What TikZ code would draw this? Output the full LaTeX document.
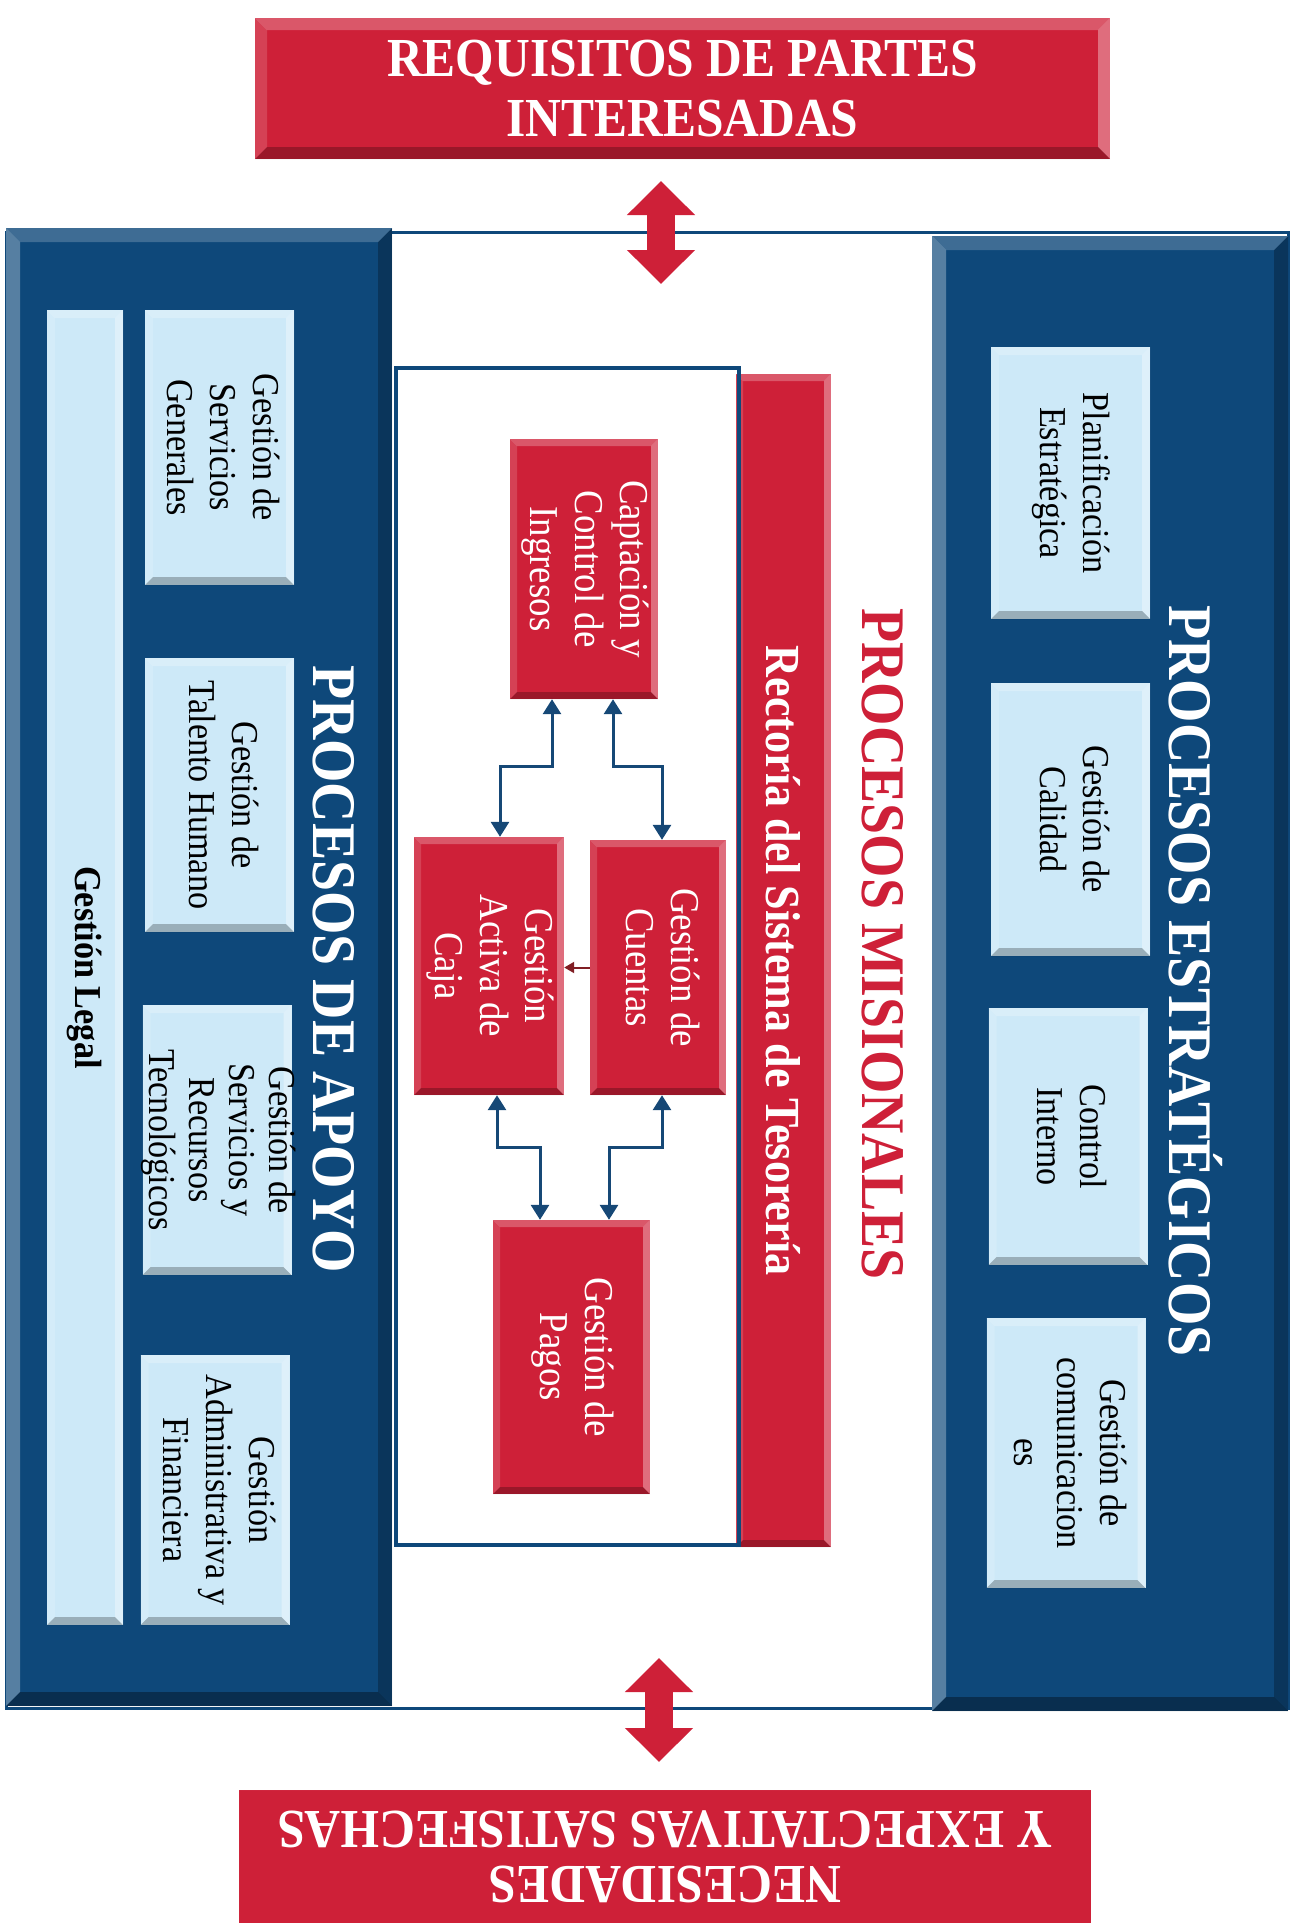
\documentclass[tikz,border=0pt]{standalone}
\usepackage{fontspec}
\setmainfont{Liberation Serif}[FakeStretch=0.9]
\usetikzlibrary{arrows.meta}

\definecolor{tesred}{RGB}{206,32,56}
\definecolor{panelblue}{RGB}{14,72,122}
\definecolor{paleblue}{RGB}{205,233,248}
\definecolor{flowblue}{RGB}{22,72,118}
\definecolor{darkred}{RGB}{128,30,36}

% text that runs from top to bottom
\newcommand{\vt}[1]{\makebox[0pt]{\rotatebox{-90}{\begin{tabular}{@{}c@{}}#1\end{tabular}}}}

% bevel: size, then right, top, left and bottom strip
\newcommand{\bevelpaint}[5]{%
  \coordinate (bv-a) at (path picture bounding box.south west);
  \coordinate (bv-b) at (path picture bounding box.north east);
  \fill[#2] (bv-b |- bv-a) -- (bv-b) -- ([xshift=-#1pt,yshift=-#1pt]bv-b)
    -- ([xshift=-#1pt,yshift=#1pt]bv-b |- bv-a) -- cycle;
  \fill[#3] (bv-a |- bv-b) -- (bv-b) -- ([xshift=-#1pt,yshift=-#1pt]bv-b)
    -- ([xshift=#1pt,yshift=-#1pt]bv-a |- bv-b) -- cycle;
  \fill[#4] (bv-a) -- (bv-a |- bv-b) -- ([xshift=#1pt,yshift=-#1pt]bv-a |- bv-b)
    -- ([xshift=#1pt,yshift=#1pt]bv-a) -- cycle;
  \fill[#5] (bv-a) -- (bv-b |- bv-a) -- ([xshift=-#1pt,yshift=#1pt]bv-b |- bv-a)
    -- ([xshift=#1pt,yshift=#1pt]bv-a) -- cycle;}

\tikzset{
  bevel/.style={path picture={\bevelpaint{#1}{white,opacity=.35}{white,opacity=.25}
    {white,opacity=.15}{black,opacity=.25}}},
  panelbevel/.style={path picture={\bevelpaint{#1}{black,opacity=.25}{white,opacity=.2}
    {white,opacity=.3}{black,opacity=.35}}},
  banner/.style={fill=tesred, bevel=12, text=white, align=center, inner sep=0pt,
    font=\bfseries\fontsize{55}{60}\selectfont},
  panel/.style={fill=panelblue, panelbevel=14, inner sep=0pt},
  lightbox/.style={fill=paleblue, bevel=8, inner sep=0pt,
    font=\fontsize{38}{43}\selectfont},
  redbox/.style={fill=tesred, bevel=7, text=white, inner sep=0pt,
    font=\fontsize{41}{45}\selectfont},
  title/.style={text=white, rotate=-90, font=\bfseries\fontsize{62}{66}\selectfont},
  bigarrow/.style={draw=tesred, line width=28pt,
    {Triangle[width=66pt,length=34pt]}-{Triangle[width=66pt,length=34pt]}},
  flow/.style={draw=flowblue, line width=3pt,
    {Triangle[width=18pt,length=15pt]}-{Triangle[width=18pt,length=15pt]}},
}

\begin{document}
\begin{tikzpicture}[x=1pt,y=-1pt]
\useasboundingbox (0,0) rectangle (1290,1923);

\node[banner, minimum width=855pt, minimum height=141pt] (req) at (682.5,88.5)
     {REQUISITOS DE PARTES\\INTERESADAS};
\node[banner, rotate=180, minimum width=852pt, minimum height=133pt,
      font=\bfseries\fontsize{55}{55}\selectfont] (nec) at (665,1856.5)
     {NECESIDADES\\Y EXPECTATIVAS SATISFECHAS};

\node[draw=panelblue, line width=3pt, minimum width=1282pt, minimum height=1476pt] (frame) at (647,970) {};

%% procesos de apoyo
\node[panel, minimum width=386pt, minimum height=1478pt] (apoyo) at (199,967) {};
\node[title] (apoyo-t) at (334,969) {PROCESOS DE APOYO};
\node[lightbox, minimum width=76pt, minimum height=1315pt] (legal) at (85,967.5)
     {\rotatebox{-90}{\bfseries Gestión Legal}};
\node[lightbox, minimum width=149pt, minimum height=275pt] (ap-1) at (219.5,447.5)
     {\vt{Gestión de\\Servicios\\Generales}};
\node[lightbox, minimum width=149pt, minimum height=274pt] (ap-2) at (219.5,795)
     {\vt{Gestión de\\Talento Humano}};
\node[lightbox, minimum width=149pt, minimum height=270pt,
      font=\fontsize{38}{40}\selectfont] (ap-3) at (217,1140)
     {\vt{Gestión de\\Servicios y\\Recursos\\Tecnológicos}};
\node[lightbox, minimum width=149pt, minimum height=270pt] (ap-4) at (215,1490)
     {\vt{Gestión\\Administrativa y\\Financiera}};

%% procesos estrategicos
\node[panel, minimum width=356pt, minimum height=1475pt] (estr) at (1110,973.5) {};
\node[title] (estr-t) at (1196,981) {PROCESOS ESTRATÉGICOS};
\node[lightbox, minimum width=159pt, minimum height=272pt] (es-1) at (1070.5,483)
     {\vt{Planificación\\Estratégica}};
\node[lightbox, minimum width=159pt, minimum height=273pt] (es-2) at (1070.5,819.5)
     {\vt{Gestión de\\Calidad}};
\node[lightbox, minimum width=159pt, minimum height=257pt] (es-3) at (1068,1136.5)
     {\vt{Control\\Interno}};
\node[lightbox, minimum width=159pt, minimum height=270pt] (es-4) at (1066,1453)
     {\vt{Gestión de\\comunicacion\\es}};

%% procesos misionales
\node[title, text=tesred] (mis-t) at (883,944) {PROCESOS MISIONALES};
\node[redbox, minimum width=95pt, minimum height=1173pt,
      font=\bfseries\fontsize{49}{52}\selectfont] (rect) at (783.5,960.5)
     {\rotatebox{-90}{Rectoría del Sistema de Tesorería}};
\node[draw=panelblue, line width=4pt, minimum width=343pt, minimum height=1177pt] (mis) at (567.5,956.5) {};
\node[redbox, minimum width=148pt, minimum height=260pt] (capt) at (584,569)
     {\vt{Captación y\\Control de\\Ingresos}};
\node[redbox, minimum width=136pt, minimum height=255pt] (cuen) at (658,967.5)
     {\vt{Gestión de\\Cuentas}};
\node[redbox, minimum width=150pt, minimum height=258pt] (caja) at (489,966)
     {\vt{Gestión\\Activa de\\Caja}};
\node[redbox, minimum width=157pt, minimum height=274pt] (pago) at (571.5,1357)
     {\vt{Gestión de\\Pagos}};

\draw[flow] ([xshift=-32pt]capt.south) -- ++(0,67) -| ([xshift=11pt]caja.north);
\draw[flow] ([xshift=29pt]capt.south) -- ++(0,67) -| ([xshift=4pt]cuen.north);
\draw[flow] ([xshift=8pt]caja.south) -- ++(0,52) -| ([xshift=-31.5pt]pago.north);
\draw[flow] ([xshift=4pt]cuen.south) -- ++(0,52) -| ([xshift=37.5pt]pago.north);
\draw[draw=darkred, line width=2pt, -{Triangle[width=11pt,length=10pt]}]
     (cuen.west) -- (cuen.west -| caja.east);

%% big arrows
\coordinate (up-a) at (661,181);
\coordinate (up-b) at (661,284);
\coordinate (down-a) at (659,1658);
\coordinate (down-b) at (659,1762);
\draw[bigarrow] (up-a) -- (up-b);
\draw[bigarrow] (down-a) -- (down-b);
\end{tikzpicture}
\end{document}
